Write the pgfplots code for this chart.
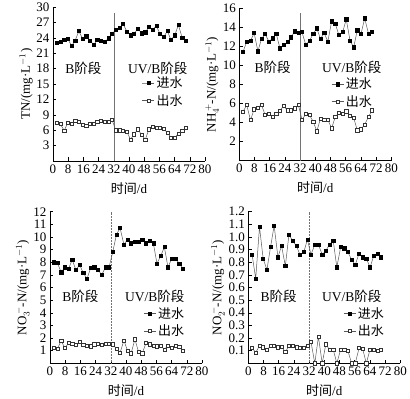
\documentclass[border=0pt]{standalone}
\usepackage{fontspec}
\setmainfont{Liberation Serif}
\newfontfamily\cjk{Noto Sans CJK SC}
\usepackage{pgfplots}
\usepackage{pgfplotstable}
\pgfplotsset{compat=1.18}

\pgfplotstableread{
x tnin tnout nhin nhout noin noout ntin ntout
2.0 23.0 7.4 11.45 5.15 8.0 1.2 0.86 0.12
3.9 23.3 7.2 12.5 5.85 7.95 1.15 0.67 0.085
5.9 23.6 5.9 12.6 4.27 7.2 1.8 1.08 0.14
7.8 23.8 7.5 13.4 5.4 7.6 1.2 0.83 0.127
9.8 22.4 7.2 11.5 5.6 7.5 1.6 0.74 0.105
11.7 23.5 7.9 12.8 5.85 8.2 1.55 0.92 0.137
13.6 25.3 7.6 13.3 4.8 7.4 1.45 1.09 0.137
15.6 23.8 7.0 12.5 4.9 7.8 1.7 0.84 0.127
17.5 24.3 6.8 12.85 4.6 7.15 1.45 0.93 0.13
19.5 23.5 7.2 13.3 4.97 6.7 1.4 0.77 0.09
21.4 22.6 7.2 11.8 5.25 7.55 1.35 1.02 0.137
23.3 23.6 7.7 12.15 5.75 7.6 1.5 0.97 0.137
25.3 23.5 7.9 12.45 5.3 7.4 1.55 0.93 0.127
27.2 23.2 7.7 12.95 5.3 7.0 1.45 0.86 0.12
29.2 23.9 7.7 13.6 5.5 7.6 1.55 0.88 0.124
31.1 24.8 8.0 13.4 5.85 7.6 1.55 0.98 0.14
33.0 25.5 6.0 13.5 4.3 8.8 1.5 0.86 0.17
35.0 25.9 6.0 12.15 4.9 10.2 1.15 0.94 0.0
36.9 26.7 5.9 12.6 4.8 10.7 0.85 0.94 0.21
38.9 25.2 5.7 13.3 4.1 9.4 1.8 0.86 0.0
40.8 24.5 4.2 13.9 3.1 9.8 1.0 0.89 0.15
42.7 24.8 5.2 12.8 4.4 9.5 0.8 0.94 0.11
44.7 25.8 6.2 13.4 4.3 9.6 1.9 0.97 0.11
46.6 24.9 5.1 12.5 4.3 9.6 0.9 0.76 0.0
48.6 25.1 4.2 14.65 3.4 9.8 0.8 0.92 0.11
50.5 26.1 6.2 14.4 4.6 9.5 1.6 0.91 0.105
52.4 25.6 6.6 13.2 5.0 9.7 1.5 0.88 0.10
54.4 26.3 6.4 13.5 4.9 9.5 1.4 0.82 0.0
56.3 24.8 6.5 14.85 5.2 7.9 1.35 0.78 0.0
58.3 24.2 6.3 12.6 4.7 8.5 1.4 0.87 0.12
60.2 25.3 5.5 11.9 4.5 9.2 1.1 0.84 0.115
62.1 23.6 4.6 13.7 3.2 7.6 1.4 0.83 0.0
64.1 24.5 4.6 13.35 3.3 8.3 1.25 0.76 0.11
66.0 26.5 5.3 14.95 3.8 8.3 1.4 0.85 0.105
68.0 24.0 5.9 13.35 4.6 7.9 1.3 0.87 0.10
69.9 23.4 6.4 13.5 5.3 7.5 1.0 0.84 0.105
}\datatable

\tikzset{txt/.style={font=\fontsize{13.5}{13.5}\selectfont, inner sep=0pt}}
\pgfplotsset{
  panel/.style={
    scale only axis, width=152pt,
    axis lines=left, axis line style={-, line width=0.6pt, black},
    xmin=0, xmax=80, xtick={0,8,...,80}, ymin=0,
    tick align=inside, major tick length=3.5pt,
    tick style={black, line width=0.5pt},
    tick label style={font=\fontsize{13}{13}\selectfont},
    label style={font=\fontsize{13}{13}\selectfont},
    /pgf/number format/assume math mode=true,
    xticklabel style={yshift=0pt},
    xlabel={{\cjk 时间}/d},
    xlabel style={yshift=-2pt},
    ylabel style={yshift=-3pt},
    clip=false,
    legend style={draw=none, fill=none, font=\fontsize{13}{13}\selectfont\cjk,
      inner sep=0pt, row sep=1pt, cells={anchor=west}, anchor=west},
    legend cell align=left,
    legend image code/.code={\draw[mark repeat=2, mark phase=2] plot coordinates {(0pt,0pt) (6pt,0pt) (12pt,0pt)};},
  },
  inser/.style={color=black!65, line width=0.5pt, mark=square*, mark size=1.6pt,
    mark options={fill=black, draw=black}},
  outser/.style={color=black!65, line width=0.5pt, mark=square*, mark size=1.6pt,
    mark options={fill=white, draw=black!80, line width=0.5pt}},
}

\begin{document}
\begin{tikzpicture}
\path[use as bounding box] (0,0) rectangle (410pt,399pt);

% Panel 1: TN
\begin{axis}[panel, at={(53pt,238pt)}, anchor=origin, height=154pt,
  ymax=30, ytick={3,6,...,30},
  ylabel={TN/(mg·L$^{-1}$)},
  legend style={at={(rel axis cs:0.585,0.45)}}]
\addplot[color=black!55, line width=0.5pt, forget plot] coordinates {(32,0) (32,28.8)};
\addplot[inser] table[x=x, y=tnin] {\datatable};
\addlegendentry{进水}
\addplot[outser] table[x=x, y=tnout] {\datatable};
\addlegendentry{出水}
\node[txt] at (rel axis cs:0.20,0.60) {B{\cjk 阶段}};
\node[txt] at (rel axis cs:0.69,0.60) {UV/B{\cjk 阶段}};
\end{axis}

% Panel 2: NH4
\begin{axis}[panel, at={(239.3pt,238.3pt)}, anchor=origin, height=152.4pt,
  ymax=16, ytick={2,4,...,16},
  ylabel={NH$_4^{\,+}$-N/(mg·L$^{-1}$)},
  legend style={at={(rel axis cs:0.605,0.445)}}]
\addplot[color=black!55, line width=0.5pt, forget plot] coordinates {(32,0) (32,15.5)};
\addplot[inser] table[x=x, y=nhin] {\datatable};
\addlegendentry{进水}
\addplot[outser] table[x=x, y=nhout] {\datatable};
\addlegendentry{出水}
\node[txt] at (rel axis cs:0.22,0.61) {B{\cjk 阶段}};
\node[txt] at (rel axis cs:0.74,0.61) {UV/B{\cjk 阶段}};
\end{axis}

% Panel 3: NO3
\begin{axis}[panel, at={(50pt,35.7pt)}, anchor=origin, height=151.6pt,
  ymax=12, ytick={1,2,...,12},
  ylabel={NO$_3^{\,-}$-N/(mg·L$^{-1}$)},
  legend style={at={(rel axis cs:0.615,0.27)}}]
\addplot[color=black!55, line width=0.5pt, densely dotted, forget plot] coordinates {(32,0) (32,12)};
\addplot[inser] table[x=x, y=noin] {\datatable};
\addlegendentry{进水}
\addplot[outser] table[x=x, y=noout] {\datatable};
\addlegendentry{出水}
\node[txt] at (rel axis cs:0.20,0.44) {B{\cjk 阶段}};
\node[txt] at (rel axis cs:0.69,0.44) {UV/B{\cjk 阶段}};
\end{axis}

% Panel 4: NO2
\begin{axis}[panel, at={(248.3pt,35.7pt)}, anchor=origin, height=151.6pt,
  ymax=1.2, ytick={0.1,0.2,...,1.2},
  yticklabel style={/pgf/number format/.cd, fixed, fixed zerofill, precision=1},
  ylabel={NO$_2^{\,-}$-N/(mg·L$^{-1}$)},
  legend style={at={(rel axis cs:0.625,0.27)}}]
\addplot[color=black!55, line width=0.5pt, densely dotted, forget plot] coordinates {(32,0) (32,1.2)};
\addplot[inser] table[x=x, y=ntin] {\datatable};
\addlegendentry{进水}
\addplot[outser] table[x=x, y=ntout] {\datatable};
\addlegendentry{出水}
\node[txt] at (rel axis cs:0.20,0.44) {B{\cjk 阶段}};
\node[txt] at (rel axis cs:0.68,0.44) {UV/B{\cjk 阶段}};
\end{axis}
\end{tikzpicture}
\end{document}
